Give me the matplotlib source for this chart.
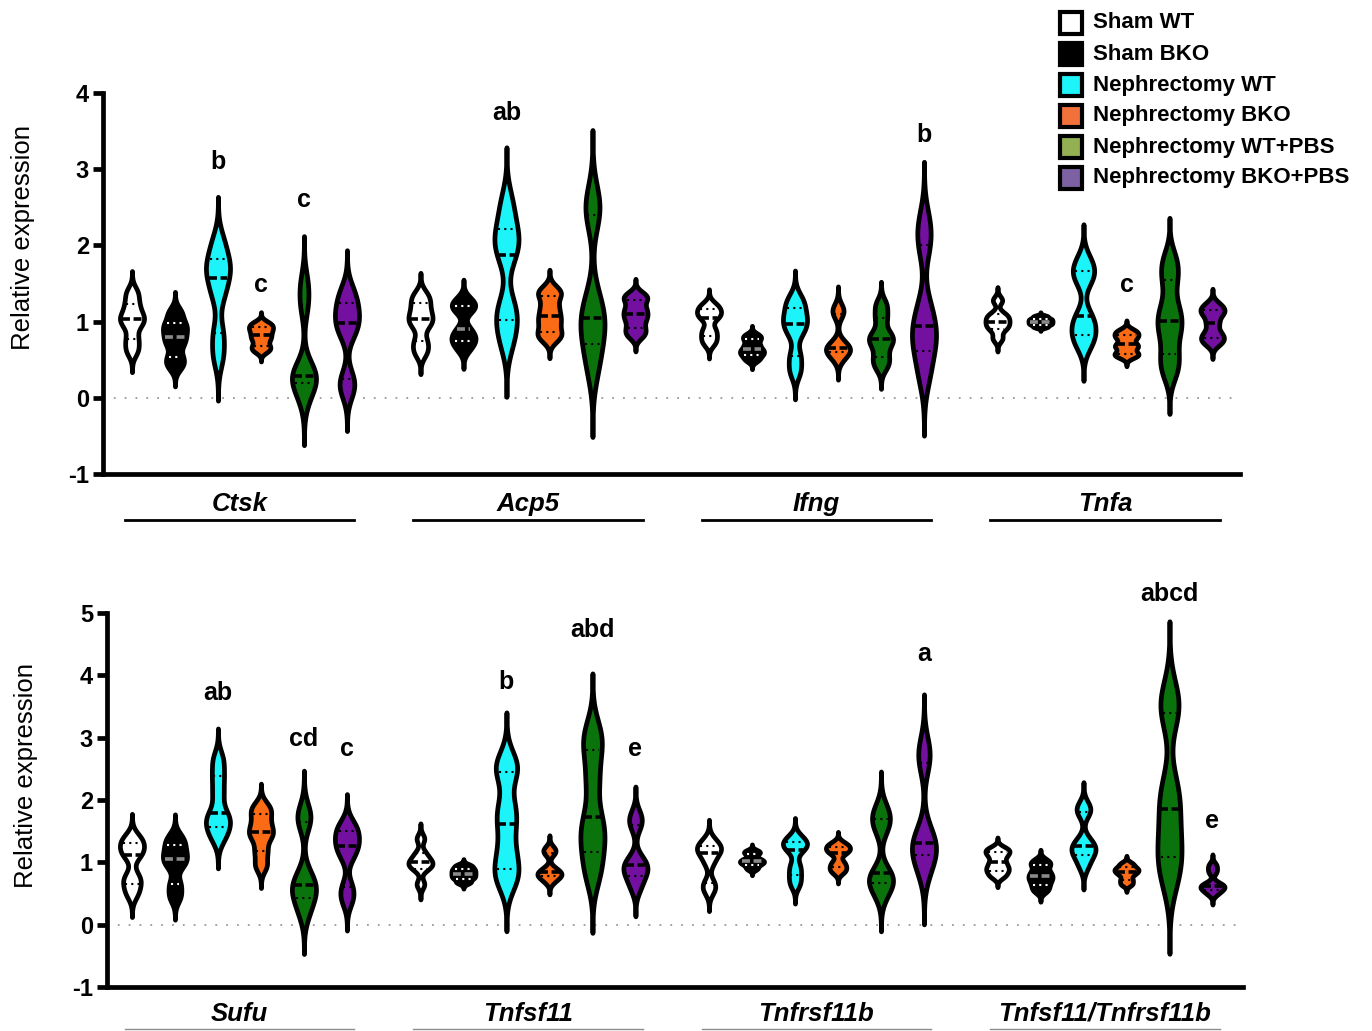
import numpy as np
import matplotlib

matplotlib.use("Agg")
import matplotlib.pyplot as plt
from matplotlib.patches import Rectangle
from matplotlib.transforms import blended_transform_factory

plt.rcParams["font.family"] = ["Liberation Sans", "DejaVu Sans"]

CONDITIONS = ["Sham WT", "Sham BKO", "Nephrectomy WT", "Nephrectomy BKO",
              "Nephrectomy WT+PBS", "Nephrectomy BKO+PBS"]
FILL_COLORS = ["#ffffff", "#000000", "#1cf4fa", "#fb6a14", "#0b730b", "#7310a0"]
LEGEND_COLORS = ["#ffffff", "#000000", "#1cf4fa", "#f2713a", "#93b053", "#7c62a3"]

TOP_GENES = ["Ctsk", "Acp5", "Ifng", "Tnfa"]
BOTTOM_GENES = ["Sufu", "Tnfsf11", "Tnfrsf11b", "Tnfsf11/Tnfrsf11b"]

# relative expression per animal, one list per condition (order as CONDITIONS)
CTSK = [
    [0.62, 0.77, 0.95, 1.03, 1.10, 1.23, 1.38],
    [0.42, 0.53, 0.70, 0.80, 0.90, 0.98, 1.12],
    [0.55, 0.85, 1.35, 1.57, 1.70, 1.82, 2.05],
    [0.62, 0.68, 0.76, 0.82, 0.88, 0.93, 0.98],
    [0.00, 0.20, 0.26, 0.28, 0.40, 1.22, 1.50],
    [0.10, 0.25, 0.85, 0.98, 1.10, 1.24, 1.40],
]
ACP5 = [
    [0.60, 0.74, 0.95, 1.03, 1.12, 1.24, 1.35],
    [0.65, 0.75, 0.80, 0.90, 1.15, 1.21, 1.28],
    [0.75, 1.02, 1.20, 1.87, 2.05, 2.22, 2.55],
    [0.78, 0.86, 0.98, 1.08, 1.20, 1.34, 1.42],
    [0.40, 0.71, 0.95, 1.05, 1.30, 2.40, 2.60],
    [0.82, 0.91, 1.02, 1.10, 1.18, 1.29, 1.35],
]
IFNG = [
    [0.72, 0.81, 0.90, 1.05, 1.10, 1.16, 1.22],
    [0.50, 0.56, 0.60, 0.64, 0.70, 0.77, 0.82],
    [0.35, 0.55, 0.85, 0.97, 1.05, 1.18, 1.30],
    [0.52, 0.60, 0.63, 0.66, 0.72, 1.10, 1.18],
    [0.42, 0.54, 0.70, 0.77, 0.85, 1.05, 1.22],
    [0.30, 0.62, 0.80, 0.94, 1.20, 2.00, 2.30],
]
TNFA = [
    [0.78, 0.90, 0.95, 1.00, 1.05, 1.10, 1.28],
    [0.93, 0.96, 0.98, 1.00, 1.02, 1.04, 1.07],
    [0.70, 0.83, 0.95, 1.08, 1.55, 1.66, 1.80],
    [0.55, 0.58, 0.66, 0.70, 0.78, 0.83, 0.88],
    [0.35, 0.57, 0.85, 1.01, 1.20, 1.55, 1.80],
    [0.72, 0.78, 0.85, 0.98, 1.10, 1.15, 1.22],
]
SUFU = [
    [0.50, 0.66, 0.78, 1.11, 1.20, 1.31, 1.40],
    [0.45, 0.65, 0.95, 1.05, 1.15, 1.28, 1.40],
    [1.40, 1.56, 1.68, 1.79, 2.10, 2.38, 2.65],
    [0.95, 1.18, 1.40, 1.49, 1.62, 1.78, 1.90],
    [0.20, 0.43, 0.55, 0.64, 0.80, 1.65, 1.80],
    [0.40, 0.60, 1.10, 1.26, 1.35, 1.50, 1.60],
]
TNFSF11 = [
    [0.65, 0.90, 0.95, 1.00, 1.05, 1.15, 1.38],
    [0.68, 0.74, 0.78, 0.82, 0.86, 0.90, 0.95],
    [0.70, 0.89, 1.20, 1.61, 1.90, 2.45, 2.60],
    [0.70, 0.78, 0.80, 0.84, 0.90, 1.15, 1.22],
    [0.80, 1.17, 1.45, 1.72, 2.30, 2.80, 3.10],
    [0.60, 0.78, 0.88, 0.95, 1.05, 1.60, 1.75],
]
TNFRSF11B = [
    [0.55, 0.67, 1.00, 1.15, 1.20, 1.26, 1.35],
    [0.90, 0.96, 1.00, 1.02, 1.06, 1.14, 1.18],
    [0.65, 0.80, 0.95, 1.20, 1.27, 1.32, 1.40],
    [0.85, 0.92, 1.00, 1.15, 1.20, 1.25, 1.30],
    [0.50, 0.67, 0.75, 0.83, 1.55, 1.70, 1.85],
    [0.85, 1.11, 1.20, 1.31, 1.50, 2.60, 2.85],
]
RATIO = [
    [0.78, 0.86, 0.92, 1.00, 1.10, 1.17, 1.22],
    [0.55, 0.64, 0.72, 0.78, 0.85, 0.95, 1.02],
    [0.95, 1.12, 1.18, 1.26, 1.35, 1.80, 1.90],
    [0.65, 0.72, 0.80, 0.85, 0.88, 0.92, 0.98],
    [0.75, 1.08, 1.40, 1.86, 2.20, 3.40, 3.65],
    [0.50, 0.56, 0.60, 0.62, 0.66, 0.85, 0.95],
]

TOP_DATA = [CTSK, ACP5, IFNG, TNFA]
BOTTOM_DATA = [SUFU, TNFSF11, TNFRSF11B, RATIO]

# significance letters: (gene index, condition index, text, y)
TOP_LETTERS = [(0, 2, "b", 3.1), (0, 3, "c", 1.48), (0, 4, "c", 2.6),
               (1, 2, "ab", 3.74), (2, 5, "b", 3.45), (3, 3, "c", 1.48)]
BOTTOM_LETTERS = [(0, 2, "ab", 3.71), (0, 4, "cd", 2.98), (0, 5, "c", 2.82),
                  (1, 2, "b", 3.89), (1, 4, "abd", 4.73), (1, 5, "e", 2.82),
                  (2, 5, "a", 4.35), (3, 4, "abcd", 5.31), (3, 5, "e", 1.66)]

GROUP_STEP = 6.71
BW_SCALE = 0.33
CUT = 3.3
HALF_WIDTH = 0.28
OUTLINE = 3.4


def position(gene, cond):
    return gene * GROUP_STEP + cond


def draw_violin(ax, pos, values, color):
    values = np.asarray(values, dtype=float)
    bw = BW_SCALE * values.std(ddof=1)
    ys = np.linspace(values.min() - CUT * bw, values.max() + CUT * bw, 400)
    dens = np.exp(-0.5 * ((ys[:, None] - values[None, :]) / bw) ** 2).sum(axis=1)
    half = HALF_WIDTH * dens / dens.max()
    ax.fill_betweenx(ys, pos - half, pos + half, facecolor=color,
                     edgecolor="black", linewidth=OUTLINE, joinstyle="round", zorder=3)

    q1, med, q3 = np.percentile(values, [25, 50, 75], method="weibull")
    dark = color == "#000000"
    for q in (q1, q3):
        w = np.interp(q, ys, half) * 0.75
        ax.plot([pos - w, pos + w], [q, q], color="white" if dark else "black",
                linestyle=(0, (1, 2)), linewidth=1.5, zorder=4)
    w = np.interp(med, ys, half) * 0.85
    ax.plot([pos - w, pos + w], [med, med], color="#8a8a8a" if dark else "black",
            linestyle=(0, (2.2, 1.0)), linewidth=2.6, zorder=4)


def draw_panel(fig, rect, xlim, ylim, genes, data, letters, label_y, line_y, underline_style):
    ax = fig.add_axes(rect)
    for g, gene_data in enumerate(data):
        for c, values in enumerate(gene_data):
            draw_violin(ax, position(g, c), values, FILL_COLORS[c])

    for g, c, text, y in letters:
        ax.text(position(g, c), y, text, ha="center", va="center",
                fontsize=18, fontweight="bold")

    ax.axhline(0, color="#9a9a9a", linestyle=(0, (1, 5)), linewidth=1.3, zorder=1)

    ax.set_xlim(*xlim)
    ax.set_ylim(*ylim)
    ax.set_xticks([])
    ticks = list(range(ylim[0], ylim[1] + 1))
    ax.set_yticks(ticks, [str(t) for t in ticks], fontsize=17, fontweight="bold")
    ax.tick_params(axis="y", length=7, width=OUTLINE, pad=3)
    for side in ("top", "right"):
        ax.spines[side].set_visible(False)
    for side in ("left", "bottom"):
        ax.spines[side].set_linewidth(OUTLINE)

    trans = blended_transform_factory(ax.transData, ax.transAxes)
    for g, gene in enumerate(genes):
        center = position(g, 2.5)
        ax.text(center, label_y, gene, transform=trans, ha="center", va="center",
                fontsize=18.5, fontweight="bold", fontstyle="italic", clip_on=False)
        ax.plot([center - 2.67, center + 2.67], [line_y, line_y], transform=trans,
                clip_on=False, **underline_style)
    return ax


def draw_legend(fig):
    W, H = 1372.0, 1031.0
    for i, (name, color) in enumerate(zip(CONDITIONS, LEGEND_COLORS)):
        yc = 23 + 31 * i
        fig.add_artist(Rectangle((1060 / W, 1 - (yc + 11) / H), 22 / W, 22 / H,
                                 transform=fig.transFigure, facecolor=color,
                                 edgecolor="black", linewidth=3.0))
        fig.text(1093 / W, 1 - yc / H, name, ha="left", va="center",
                 fontsize=16, fontweight="bold")


def main():
    fig = plt.figure(figsize=(13.72, 10.31), dpi=100)

    draw_panel(fig, [103 / 1372, 1 - 474 / 1031, 1137 / 1372, 381 / 1031],
               (-0.674, 25.77), (-1, 4), TOP_GENES, TOP_DATA, TOP_LETTERS, -0.078, -0.121,
               {"color": "black", "linewidth": 2.0})
    draw_panel(fig, [107 / 1372, 1 - 987 / 1031, 1136 / 1372, 374 / 1031],
               (-0.58, 25.84), (-1, 5), BOTTOM_GENES, BOTTOM_DATA, BOTTOM_LETTERS, -0.072, -0.113,
               {"color": "#8c8c8c", "linewidth": 1.0})

    fig.text(23 / 1372, 1 - 237 / 1031, "Relative expression", rotation=90,
             ha="center", va="center", fontsize=18.5)
    fig.text(26 / 1372, 1 - 775 / 1031, "Relative expression", rotation=90,
             ha="center", va="center", fontsize=18.5)

    draw_legend(fig)
    fig.savefig("out.png", dpi=100)


if __name__ == "__main__":
    main()
